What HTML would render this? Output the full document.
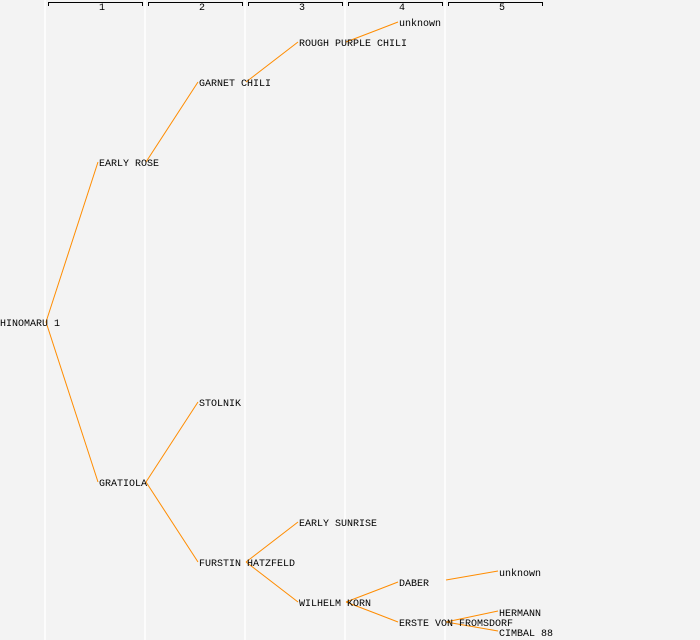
<!DOCTYPE html>
<html><head><meta charset="utf-8"><style>
html,body{margin:0;padding:0;background:#f3f3f3;}
svg{display:block;}
text{font-family:"Liberation Mono",monospace;font-size:10px;fill:#000;}
</style></head><body>
<svg width="700" height="640" xmlns="http://www.w3.org/2000/svg">
<rect width="700" height="640" fill="#f3f3f3"/>
<g stroke="#ffffff" stroke-width="1.5">
<line x1="45" y1="0" x2="45" y2="640"/>
<line x1="145" y1="0" x2="145" y2="640"/>
<line x1="245" y1="0" x2="245" y2="640"/>
<line x1="345" y1="0" x2="345" y2="640"/>
<line x1="445" y1="0" x2="445" y2="640"/>
</g>
<g stroke="#000" stroke-width="1" fill="none">
<path d="M48.5,6V2.5H142.5V6"/>
<path d="M148.5,6V2.5H242.5V6"/>
<path d="M248.5,6V2.5H342.5V6"/>
<path d="M348.5,6V2.5H442.5V6"/>
<path d="M448.5,6V2.5H542.5V6"/>
</g>
<g style="font-size:8px" text-anchor="middle">
<text x="102" y="10">1</text><text x="202" y="10">2</text><text x="302" y="10">3</text><text x="402" y="10">4</text><text x="502" y="10">5</text>
</g>
<g stroke="#ff8c00" stroke-width="1" fill="none">
<line x1="46" y1="322" x2="98" y2="162"/>
<line x1="46" y1="322" x2="98" y2="482"/>
<line x1="146" y1="162" x2="198" y2="82"/>
<line x1="146" y1="482" x2="198" y2="402"/>
<line x1="146" y1="482" x2="198" y2="562"/>
<line x1="246" y1="82" x2="298" y2="42"/>
<line x1="246" y1="562" x2="298" y2="522"/>
<line x1="246" y1="562" x2="298" y2="602"/>
<line x1="346" y1="42" x2="398" y2="22"/>
<line x1="346" y1="602" x2="398" y2="582"/>
<line x1="346" y1="602" x2="398" y2="622"/>
<line x1="446" y1="580" x2="498" y2="571"/>
<line x1="446" y1="622" x2="498" y2="611"/>
<line x1="446" y1="622" x2="498" y2="631"/>
</g>
<g style="font-size:11px">
<text x="0" y="326">HINOMARU 1</text>
<text x="99" y="166">EARLY ROSE</text>
<text x="99" y="486">GRATIOLA</text>
<text x="199" y="86">GARNET CHILI</text>
<text x="199" y="406">STOLNIK</text>
<text x="199" y="566">FURSTIN HATZFELD</text>
<text x="299" y="46">ROUGH PURPLE CHILI</text>
<text x="299" y="526">EARLY SUNRISE</text>
<text x="299" y="606">WILHELM KORN</text>
<text x="399" y="26">unknown</text>
<text x="399" y="586">DABER</text>
<text x="399" y="626">ERSTE VON FROMSDORF</text>
<text x="499" y="576">unknown</text>
<text x="499" y="616">HERMANN</text>
<text x="499" y="636">CIMBAL 88</text>
</g>
</svg>
</body></html>
